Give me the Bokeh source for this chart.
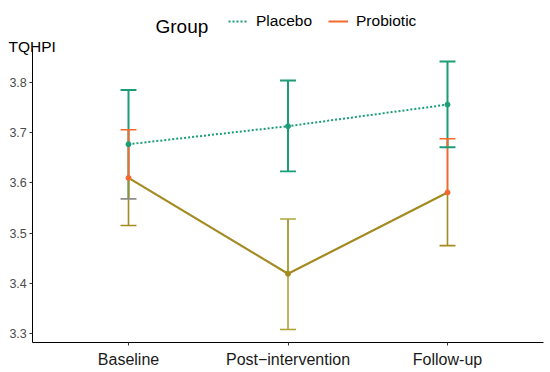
from bokeh.plotting import figure
from bokeh.models import ColumnDataSource, Range1d, FixedTicker, Label, Legend, LegendItem
from bokeh.embed import file_html
from bokeh.resources import INLINE

# ---- data ----
categories = ["Baseline", "Post\u2212intervention", "Follow-up"]
x_pos = [1, 2, 3]
placebo_mean = [3.677, 3.713, 3.756]
placebo_lower = [3.568, 3.623, 3.671]
placebo_upper = [3.785, 3.804, 3.842]
probiotic_mean = [3.610, 3.419, 3.581]
probiotic_lower = [3.515, 3.308, 3.475]
probiotic_upper = [3.706, 3.528, 3.688]
y_ticks = [3.3, 3.4, 3.5, 3.6, 3.7, 3.8]

# ---- styles / layout ----
GREEN = "#1B9E77"
ORANGE = "#F26A2E"
OLIVE = "#A38B22"
OLIVE_LIGHT = "#ADA53C"
GREY = "#8C8C8C"
CAP = 0.05  # half cap width in x data units
FONT = "Liberation Sans"
W, H = 550, 372
XPX, YPX = 159.5, 502.0          # pixels per data unit
X0 = 1 - 128 / XPX               # data x at left edge
Y1 = 3.8 + 82 / YPX              # data y at top edge
X_LO, X_HI = 0.4, 3.6            # axis extent (x)
Y_LO, Y_HI = 3.282, 3.868        # axis extent (y)


def dx(px):
    return X0 + px / XPX


def dy(py):
    return Y1 - py / YPX


p = figure(width=W, height=H,
           x_range=Range1d(X0, X0 + W / XPX), y_range=Range1d(Y1 - H / YPX, Y1),
           output_backend="svg", toolbar_location=None, min_border=0)
p.grid.visible = False
p.outline_line_color = None
p.background_fill_color = "white"
p.border_fill_color = "white"

# axes (fixed inside the frame)
p.xaxis.fixed_location = Y_LO
p.yaxis.fixed_location = X_LO
p.xaxis.bounds = (X_LO, X_HI)
p.yaxis.bounds = (Y_LO, Y_HI)
p.xaxis.ticker = FixedTicker(ticks=x_pos)
p.xaxis.major_label_overrides = {x: c for x, c in zip(x_pos, categories)}
p.yaxis.ticker = FixedTicker(ticks=y_ticks)
p.yaxis.major_label_overrides = {t: f"{t:.1f}" for t in y_ticks}
for ax in (p.xaxis, p.yaxis):
    ax.axis_line_color = "black"
    ax.axis_line_width = 1
    ax.major_tick_line_color = "#333333"
    ax.major_tick_out = 3
    ax.major_tick_in = 0
    ax.minor_tick_line_color = None
    ax.major_label_text_font = FONT
p.xaxis.major_label_text_font_size = "16px"
p.xaxis.major_label_text_color = "#1a1a1a"
p.xaxis.major_label_standoff = 5
p.yaxis.major_label_text_font_size = "12.5px"
p.yaxis.major_label_text_color = "#4d4d4d"
p.yaxis.major_label_standoff = 3

src = ColumnDataSource(dict(
    x=x_pos,
    xl=[v - CAP for v in x_pos],
    xr=[v + CAP for v in x_pos],
    pm=placebo_mean, plo=placebo_lower, pup=placebo_upper,
    rm=probiotic_mean, rlo=probiotic_lower, rup=probiotic_upper,
    r_up_col=[ORANGE, OLIVE_LIGHT, ORANGE],
    r_lo_col=[OLIVE, OLIVE_LIGHT, OLIVE],
    r_pt_col=[ORANGE, OLIVE, ORANGE],
    p_lo_cap=[GREY, GREEN, GREEN],
))

# placebo error bars
p.segment(x0="x", y0="plo", x1="x", y1="pup", source=src, line_color=GREEN, line_width=2)
p.segment(x0="xl", y0="pup", x1="xr", y1="pup", source=src, line_color=GREEN, line_width=2)

# probiotic error bars
r_up = p.segment(x0="x", y0="rm", x1="x", y1="rup", source=src, line_color="r_up_col", line_width=2)
p.segment(x0="x", y0="rlo", x1="x", y1="rm", source=src, line_color="r_lo_col", line_width=1.6)
p.segment(x0="xl", y0="rup", x1="xr", y1="rup", source=src, line_color="r_up_col", line_width=1.6)
p.segment(x0="xl", y0="rlo", x1="xr", y1="rlo", source=src, line_color="r_lo_col", line_width=1.6)

# placebo lower caps on top
p.segment(x0="xl", y0="plo", x1="xr", y1="plo", source=src, line_color="p_lo_cap", line_width=1.8)

# lines
p.line(x="x", y="rm", source=src, line_color=OLIVE, line_width=2.2)
pl = p.line(x="x", y="pm", source=src, line_color=GREEN, line_width=2, line_dash="2 2")

# points
p.scatter(x="x", y="pm", source=src, size=5, color=GREEN)
p.scatter(x="x", y="rm", source=src, size=5, color="r_pt_col")

# y-axis title at top-left
p.add_layout(Label(x=dx(8), y=dy(46), text="TQHPI",
                   text_font=FONT, text_font_size="15.5px", text_color="black",
                   text_align="left", text_baseline="alphabetic"))

# legend title
p.add_layout(Label(x=dx(155), y=dy(26), text="Group",
                   text_font=FONT, text_font_size="19px", text_color="black",
                   text_align="left", text_baseline="alphabetic"))

legend = Legend(items=[LegendItem(label="Placebo", renderers=[pl]),
                       LegendItem(label="Probiotic", renderers=[r_up], index=0)],
                location=(228, H - 21 - 10), orientation="horizontal",
                padding=0, margin=0, spacing=16,
                glyph_width=20, glyph_height=14, label_standoff=8,
                label_text_font=FONT, label_text_font_size="15.5px",
                label_text_color="black", label_height=20,
                background_fill_alpha=0, border_line_color=None)
p.add_layout(legend, "center")

open("out.html", "w").write(file_html(p, INLINE))
